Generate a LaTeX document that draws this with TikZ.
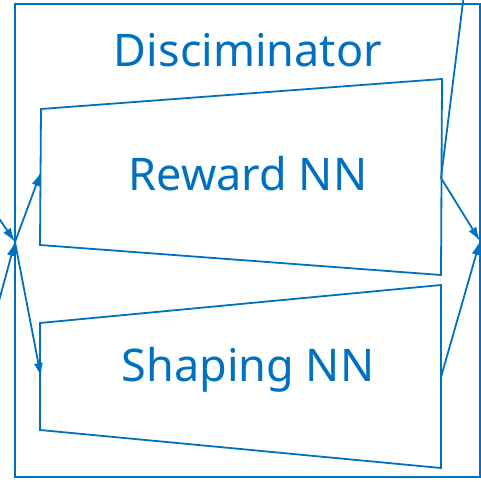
\documentclass[tikz,border=0pt]{standalone}
\usepackage{fontspec}
\setmainfont{Noto Sans}
\usetikzlibrary{positioning, arrows.meta}
\definecolor{nnblue}{RGB}{0,112,192}

\begin{document}
\begin{tikzpicture}[x=1pt, y=-1pt, color=nnblue, line width=1.8pt, label/.style={font=\fontsize{45}{52}\selectfont}, arrow/.style={-{Latex[length=14pt, width=9pt]}}]
      \useasboundingbox (0,0) rectangle (481,482);
      % outer box and the two networks
      \draw (15,4) rectangle (480,477); \node[label] (disc) at (248,50)
      {Disciminator};
      \draw (41,109) -- (442,79) -- (441,275) -- (40,245) -- cycle; \node[label]
      (reward) at (248,174) {Reward NN};
      \draw (40,323) -- (441,285) -- (441,468) -- (40,430) -- cycle; \node[label]
      (shaping) at (248,370) {Shaping NN};

      \coordinate (hubin) at (15,242); \coordinate (hubout) at (480,241);
      \coordinate (rewardin) at (41,172); \coordinate (shapingin) at (41,377);
      \coordinate (rewardout) at (441,178); \coordinate (shapingout) at
      (441,377); \coordinate (srcA) at (-4,214); \coordinate (srcB) at (-4,312);
      \coordinate (sink) at (463.5,-2);

      \draw[arrow] (srcA) -- (hubin); \draw[arrow] (srcB) -- (hubin);
      \draw[arrow] (hubin) -- (rewardin); \draw[arrow] (hubin) -- (shapingin);
      \draw[arrow] (rewardout) -- (hubout); \draw[arrow] (shapingout) --
      (hubout); \draw (rewardout) -- (sink);
    \end{tikzpicture}
\end{document}
